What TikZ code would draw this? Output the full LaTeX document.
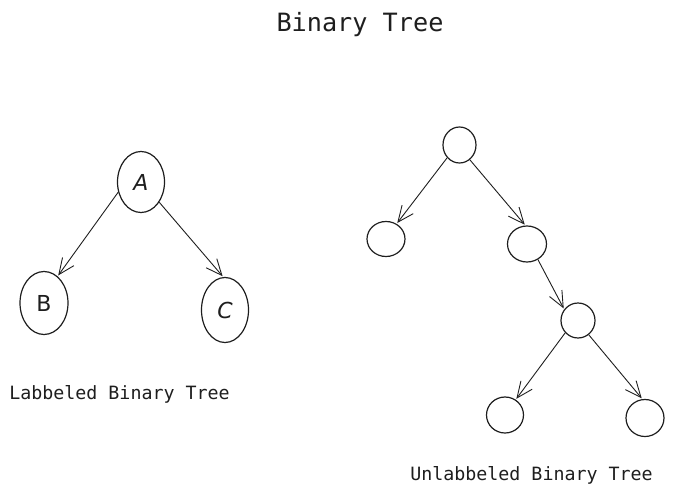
\documentclass[tikz,border=0pt]{standalone}
\usepackage{fontspec}
\setmonofont{DejaVu Sans Mono}
\newfontfamily\handfont{DejaVu Sans}
\usetikzlibrary{shapes.geometric,arrows.meta}
\definecolor{ink}{HTML}{1E1E1E}
\tikzset{
  bubble/.style={draw=ink, line width=1.2pt, ellipse, inner sep=0pt},
  link/.style={draw=ink, line width=0.9pt, -{Straight Barb[length=16pt,width=14pt,line width=0.9pt]}, shorten >=1pt},
  caption/.style={text=ink, font=\ttfamily\fontsize{18.3}{21}\selectfont, inner sep=0pt},
  letter/.style={text=ink, font=\handfont\fontsize{22}{24}\selectfont}
}
\begin{document}
\begin{tikzpicture}[x=1pt,y=-1pt]
\useasboundingbox (0,0) rectangle (673,500);
% title
\node[text=ink, font=\ttfamily\fontsize{25.2}{28}\selectfont, inner sep=0pt] (title) at (360,25) {Binary Tree};
% labelled tree
\node[bubble, minimum width=47pt, minimum height=61pt, label={[letter]center:\textit{A}}] (A) at (141,182) {};
\node[bubble, minimum width=48pt, minimum height=63pt, label={[letter]center:B}] (B) at (44,303) {};
\node[bubble, minimum width=47pt, minimum height=65pt, label={[letter]center:\textit{C}}] (C) at (225,310) {};
\draw[link] (A.204) -- (B.63);
\draw[link] (A.312) -- (C.93);
\node[caption] (cap1) at (119.5,394) {Labbeled Binary Tree};
% unlabelled tree
\node[bubble, minimum width=33pt, minimum height=36pt] (r) at (459.5,145) {};
\node[bubble, minimum width=38pt, minimum height=35pt] (l) at (386,239) {};
\node[bubble, minimum width=39pt, minimum height=36pt] (rt) at (527,244) {};
\node[bubble, minimum width=34pt, minimum height=35pt] (m) at (578,320.5) {};
\node[bubble, minimum width=37pt, minimum height=36pt] (ll) at (505,415) {};
\node[bubble, minimum width=38pt, minimum height=37pt] (rr) at (645,418) {};
\draw[link] (r.226) -- (l.55);
\draw[link] (r.305) -- (rt.95);
\draw[link] (rt.305) -- (m.141);
\draw[link] (m.224) -- (ll.55);
\draw[link] (m.307) -- (rr.98);
\node[caption] (cap2) at (531.5,475) {Unlabbeled Binary Tree};
\end{tikzpicture}
\end{document}
